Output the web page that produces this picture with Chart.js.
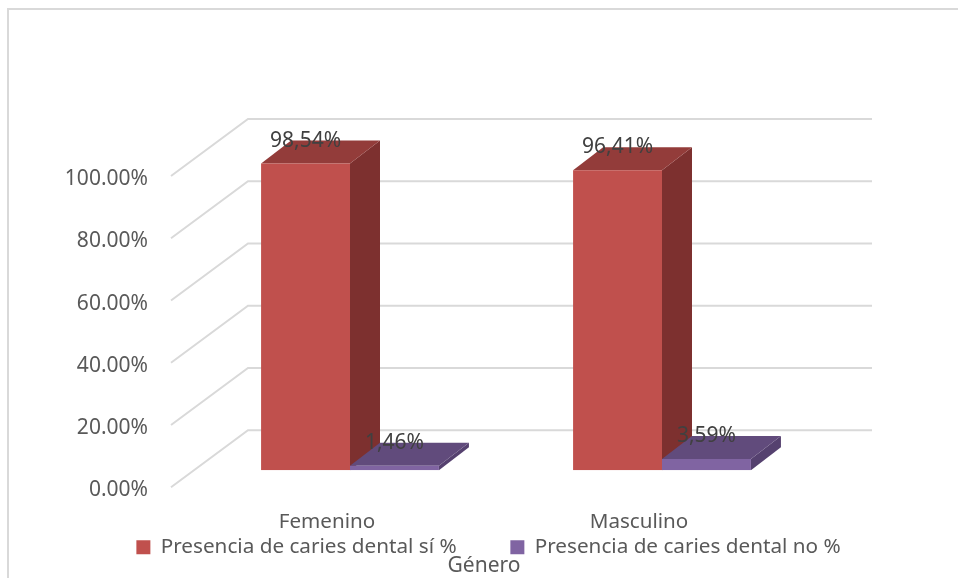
<!DOCTYPE html>
<html lang="es">
<head>
<meta charset="utf-8">
<title>Caries dental por género</title>
<style>
  html, body { margin: 0; padding: 0; background: #fff; overflow: hidden; }
  canvas { display: block; }
</style>
</head>
<body>
<canvas id="chart" width="958" height="578"></canvas>
<script src="https://cdn.jsdelivr.net/npm/chart.js@4"></script>
<script>
const categories = ["Femenino", "Masculino"];
const cariesSi = [98.54, 96.41];
const cariesNo = [1.46, 3.59];
const serieSi = "Presencia de caries dental sí %";
const serieNo = "Presencia de caries dental no %";
const ejeTitulo = "Género";

const FONT = "'Noto Sans', sans-serif";
const GRID = "#d9d9d9";

// perspectiva de la caja 3D
const WALL = { dx: 77, dy: -57 };  // pared del fondo respecto al plano frontal
const FRONT = { dx: 23, dy: -17 }; // cara frontal de las barras
const DEPTH = { dx: 30, dy: -23 }; // profundidad de cada barra

const faces = [
  { top: "#933c3a", side: "#7d302f" },
  { top: "#614b7c", side: "#55416f" },
];

function poly(ctx, pts, color) {
  ctx.fillStyle = color;
  ctx.beginPath();
  pts.forEach((p, i) => (i ? ctx.lineTo(p[0], p[1]) : ctx.moveTo(p[0], p[1])));
  ctx.closePath();
  ctx.fill();
}

const box3d = {
  id: "box3d",
  afterLayout(chart) {
    // leyenda y título van muy juntos, más de lo que deja el layout
    const legend = chart.legend;
    const h = legend.bottom - legend.top;
    legend.left += 4.5;
    legend.right += 4.5;
    legend.top = 537;
    legend.bottom = legend.top + h;
    chart.titleBlock.top -= 1;
    chart.titleBlock.bottom -= 1;
    // las etiquetas del eje x se recortan a la caja del eje
    chart.scales.x.bottom += 20;
  },
  beforeDraw(chart) {
    const ctx = chart.ctx;
    ctx.save();
    ctx.strokeStyle = GRID;
    ctx.lineWidth = 2;
    ctx.beginPath();
    ctx.moveTo(8, 578);
    ctx.lineTo(8, 9);
    ctx.lineTo(958, 9);
    ctx.stroke();
    ctx.restore();
  },
  beforeDatasetsDraw(chart) {
    const ctx = chart.ctx;
    const { x, y } = chart.scales;

    // rejilla: diagonal lateral y línea en la pared del fondo
    ctx.save();
    ctx.strokeStyle = GRID;
    ctx.lineWidth = 2;
    y.ticks.forEach((t) => {
      const py = y.getPixelForValue(t.value);
      ctx.beginPath();
      ctx.moveTo(x.left, py);
      ctx.lineTo(x.left + WALL.dx, py + WALL.dy);
      ctx.lineTo(x.right + WALL.dx, py + WALL.dy);
      ctx.stroke();
    });
    ctx.restore();

    // caras superior y lateral
    chart.data.datasets.forEach((ds, i) => {
      chart.getDatasetMeta(i).data.forEach((bar) => {
        const l = bar.x - bar.width / 2 + FRONT.dx;
        const r = bar.x + bar.width / 2 + FRONT.dx;
        const t = bar.y + FRONT.dy;
        const b = bar.base + FRONT.dy;
        poly(ctx, [[r, t], [r + DEPTH.dx, t + DEPTH.dy], [r + DEPTH.dx, b + DEPTH.dy], [r, b]], faces[i].side);
        poly(ctx, [[l, t], [l + DEPTH.dx, t + DEPTH.dy], [r + DEPTH.dx, t + DEPTH.dy], [r, t]], faces[i].top);
      });
    });

    // las caras frontales las pinta Chart.js desplazadas
    ctx.save();
    ctx.translate(FRONT.dx, FRONT.dy);
  },
  afterDatasetsDraw(chart) {
    const ctx = chart.ctx;
    ctx.restore();

    ctx.save();
    ctx.fillStyle = "#404040";
    ctx.font = "21px " + FONT;
    ctx.textAlign = "center";
    ctx.textBaseline = "middle";
    chart.data.datasets.forEach((ds, i) => {
      chart.getDatasetMeta(i).data.forEach((bar, j) => {
        const txt = ds.data[j].toFixed(2).replace(".", ",") + "%";
        ctx.fillText(txt, bar.x + FRONT.dx, bar.y + FRONT.dy - 23);
      });
    });
    ctx.restore();
  },
};

new Chart(document.getElementById("chart"), {
  type: "bar",
  data: {
    labels: categories,
    datasets: [
      { label: serieSi, data: cariesSi, backgroundColor: "#c0504d" },
      { label: serieNo, data: cariesNo, backgroundColor: "#8064a2" },
    ],
  },
  plugins: [box3d],
  options: {
    responsive: false,
    animation: false,
    categoryPercentage: 0.57,
    barPercentage: 1,
    layout: { padding: { left: 10, top: 176 } },
    plugins: {
      tooltip: { enabled: false },
      legend: {
        position: "bottom",
        labels: {
          color: "#595959",
          font: { family: FONT, size: 20.7 },
          boxWidth: 14,
          boxHeight: 14,
          padding: 0,
          // separación entre las dos entradas
          generateLabels(chart) {
            const items = Chart.defaults.plugins.legend.labels.generateLabels(chart);
            items[0].text += "\u00a0".repeat(10);
            return items;
          },
        },
      },
      title: {
        display: true,
        text: ejeTitulo,
        position: "bottom",
        color: "#595959",
        font: { family: FONT, size: 21, weight: "normal", lineHeight: 1 },
        padding: 0,
      },
    },
    scales: {
      x: {
        grid: { display: false },
        border: { display: false },
        ticks: { color: "#595959", font: { family: FONT, size: 20.6 }, padding: 14 },
        afterFit(axis) { axis.height = 39; },
      },
      y: {
        min: 0,
        max: 100,
        grid: { display: false },
        border: { display: false },
        ticks: {
          stepSize: 20,
          color: "#595959",
          font: { family: FONT, size: 21 },
          padding: 15,
          labelOffset: 3,
          callback: (v) => v.toFixed(2) + "%",
        },
        afterFit(axis) { axis.width = 161; },
      },
      // reserva el margen derecho que ocupa la pared del fondo
      margen: {
        position: "right",
        grid: { display: false },
        border: { display: false },
        ticks: { display: false },
        afterFit(axis) { axis.width = 163; },
      },
    },
  },
});
</script>
</body>
</html>
